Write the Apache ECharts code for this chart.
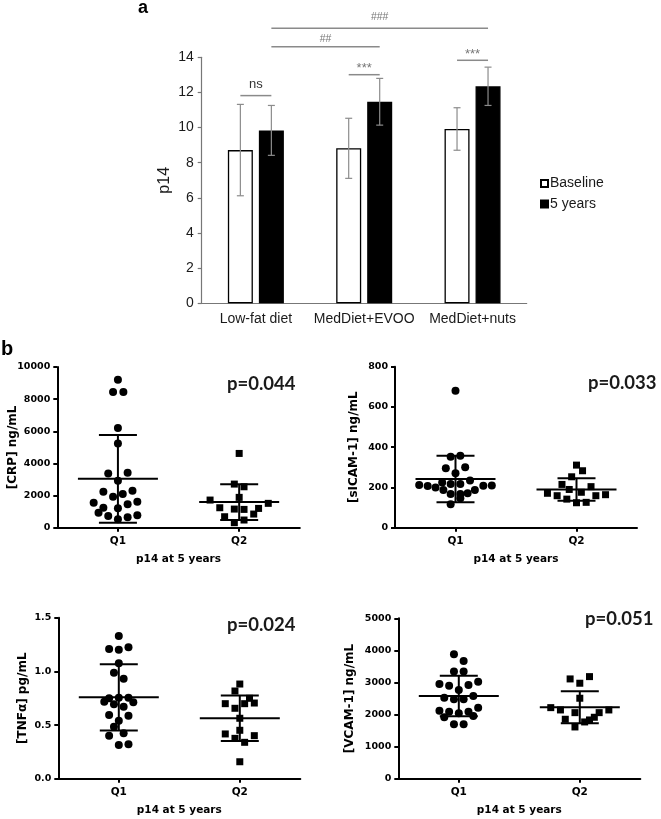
<!DOCTYPE html>
<html><head><meta charset="utf-8">
<script src="https://cdn.jsdelivr.net/npm/echarts@6/dist/echarts.min.js"></script>
<style>html,body{margin:0;padding:0;background:#fff}#c{width:661px;height:819px}</style>
</head><body><div id="c"></div>
<script>
// ---------- Panel a data ----------
const categories = ['Low-fat diet', 'MedDiet+EVOO', 'MedDiet+nuts'];
const seriesNames = ['Baseline', '5 years'];
const baselineMean = [8.72, 8.82, 9.92];
const baselineSD = [2.6, 1.71, 1.21];
const fiveYearMean = [9.84, 11.47, 12.35];
const fiveYearSD = [1.42, 1.33, 1.09];
const yTicksA = [0, 2, 4, 6, 8, 10, 12, 14];
// significance brackets: [category, series] endpoints, level (p14 units), label
const bracketFrom = [[0, 0], [1, 0], [2, 0], [0, 1], [0, 1]];
const bracketTo = [[0, 1], [1, 1], [2, 1], [1, 1], [2, 1]];
const bracketLevel = [11.82, 13.01, 13.83, 14.6, 15.65];
const bracketText = ['ns', '***', '***', '##', '###'];

// ---------- Panel b data: [jitter (category units), value] ----------
const groupLabels = ['Q1', 'Q2'];
const crpQ1 = [[0, 9213], [-0.04, 8450], [0.045, 8450], [0, 6211], [0, 5242],
  [-0.08, 3379], [0.08, 3416], [0, 2919],
  [-0.12, 2236], [-0.04, 1925], [0.04, 2093], [0.12, 2298],
  [-0.2, 1553], [-0.12, 1242], [0, 1205], [0.08, 1453], [0.16, 1615],
  [-0.16, 932], [-0.08, 727], [0, 522], [0.08, 646], [0.16, 770]];
const crpQ2 = [[0, 4621], [-0.04, 2714], [0.04, 2547], [0, 1888],
  [-0.24, 1720], [0.24, 1515],
  [-0.16, 1242], [-0.04, 1159], [0.04, 1139], [0.16, 1200],
  [-0.12, 683], [0.12, 849], [-0.04, 311], [0.04, 478]];
const crpMean = [3040, 1596];
const crpSD = [2735, 1110];

const sicamQ1 = [[0, 680], [-0.04, 353], [0.04, 358], [-0.08, 296], [0.08, 300], [0, 270], [0.12, 235],
  [-0.3, 212], [-0.23, 207], [-0.165, 200], [-0.11, 224], [-0.04, 217], [0.04, 217], [0.23, 209], [0.3, 210],
  [-0.1, 187], [0.16, 187], [-0.04, 167], [0.04, 167], [0.1, 171],
  [0.04, 146], [-0.04, 116]];
const sicamQ2 = [[0, 311], [0.05, 283], [-0.04, 253], [-0.12, 215], [0.12, 204],
  [-0.24, 171], [-0.06, 190], [0.04, 176],
  [-0.16, 159], [0.16, 159], [0.24, 164],
  [-0.08, 142], [0, 124], [0.08, 126]];
const sicamMean = [242, 190];
const sicamSD = [115, 56];

const tnfQ1 = [[0, 1.33], [-0.08, 1.209], [0, 1.202], [0.08, 1.224], [0, 1.075],
  [-0.04, 0.988], [0.04, 0.932],
  [-0.08, 0.749], [0, 0.755], [0.08, 0.755], [-0.12, 0.718], [0.12, 0.712], [-0.04, 0.693], [0.04, 0.671],
  [-0.08, 0.594], [0.08, 0.587], [0, 0.541],
  [-0.04, 0.485], [0.04, 0.423], [-0.08, 0.401],
  [0, 0.314], [0.08, 0.32]];
const tnfQ2 = [[0, 0.882], [-0.04, 0.817], [0.08, 0.749], [-0.12, 0.699], [-0.04, 0.656], [0.04, 0.699], [0.12, 0.705],
  [0, 0.563], [0, 0.451], [-0.12, 0.417], [0.12, 0.401], [-0.04, 0.376], [0.04, 0.339], [0, 0.158]];
const tnfMean = [0.758, 0.563];
const tnfSD = [0.308, 0.211];

const vcamQ1 = [[-0.04, 3880], [0.04, 3671], [-0.04, 3338], [0.04, 3338],
  [-0.16, 2954], [-0.08, 2901], [0, 2766], [0.08, 2922], [0.16, 3026],
  [-0.12, 2527], [-0.04, 2476], [0.04, 2476], [0.12, 2580],
  [-0.16, 2121], [-0.08, 2090], [0, 2039], [0.08, 2090], [0.16, 2215],
  [-0.12, 1915], [0.12, 1955], [-0.04, 1697], [0.04, 1697]];
const vcamQ2 = [[-0.08, 3110], [0, 2976], [0.08, 3182], [0, 2508],
  [-0.24, 2215], [-0.16, 2143], [0.24, 2143],
  [-0.04, 2059], [0.16, 2059],
  [-0.12, 1853], [0.08, 1831], [0.12, 1915],
  [0.04, 1769], [-0.04, 1613]];
const vcamMean = [2580, 2226];
const vcamSD = [630, 500];

const yTicksCRP = [0, 2000, 4000, 6000, 8000, 10000];
const yTicksSICAM = [0, 200, 400, 600, 800];
const yTicksTNF = [0, 0.5, 1.0, 1.5];
const yTicksVCAM = [0, 1000, 2000, 3000, 4000, 5000];
const pValues = ['p=0.044', 'p=0.033', 'p=0.024', 'p=0.051'];
const yNames = ['[CRP] ng/mL', '[sICAM-1] ng/mL', '[TNF\u03b1] pg/mL', '[VCAM-1] ng/mL'];
const xName = 'p14 at 5 years';

// ---------- layout / style ----------
const BAR_W = 25, BAR_GAP = 0.24;
const barOffset = s => (s === 0 ? -1 : 1) * (BAR_W + BAR_W * BAR_GAP) / 2;
const labelLift = { 'ns': 11, '***': 6, '##': 7.5, '###': 11.5 };
const labelSize = { 'ns': 13, '***': 13, '##': 10.5, '###': 10.5 };
const labelColor = { 'ns': '#333', '***': '#777', '##': '#777', '###': '#777' };

const panels = [
  { q1: crpQ1, q2: crpQ2, mean: crpMean, sd: crpSD, ticks: yTicksCRP, dec: 0,
    grid: { left: 57.3, top: 367, width: 242.5, height: 160.7 }, nameGap: 38, pPos: [227, 384] },
  { q1: sicamQ1, q2: sicamQ2, mean: sicamMean, sd: sicamSD, ticks: yTicksSICAM, dec: 0,
    grid: { left: 395, top: 366.7, width: 242, height: 161 }, nameGap: 35, pPos: [588, 383] },
  { q1: tnfQ1, q2: tnfQ2, mean: tnfMean, sd: tnfSD, ticks: yTicksTNF, dec: 1,
    grid: { left: 58.3, top: 617.7, width: 242, height: 161 }, nameGap: 29, pPos: [227, 625] },
  { q1: vcamQ1, q2: vcamQ2, mean: vcamMean, sd: vcamSD, ticks: yTicksVCAM, dec: 0,
    grid: { left: 398.3, top: 618.3, width: 242, height: 160.4 }, nameGap: 42, pPos: [585, 619] }
];

const grids = [{ left: 201.7, top: 57.3, width: 325, height: 246, outerBoundsMode: 'none' }];
const xAxes = [{
  gridIndex: 0, type: 'category', data: categories,
  axisLine: { show: true, lineStyle: { color: '#777', width: 1.2 } },
  axisTick: { show: false },
  axisLabel: { interval: 0, hideOverlap: false, fontSize: 14, color: '#1a1a1a', margin: 9, fontFamily: 'Liberation Sans' },
  splitLine: { show: false }
}];
const yAxes = [{
  gridIndex: 0, type: 'value', min: yTicksA[0], max: yTicksA[yTicksA.length - 1], interval: yTicksA[1] - yTicksA[0],
  axisLine: { show: true, lineStyle: { color: '#777', width: 1.2 } },
  axisTick: { show: true, length: 4, lineStyle: { color: '#777', width: 1.2 } },
  axisLabel: { fontSize: 14, color: '#1a1a1a', margin: 8, fontFamily: 'Liberation Sans' },
  splitLine: { show: false },
  name: 'p14', nameLocation: 'middle', nameGap: 29, nameMoveOverlap: false,
  nameTextStyle: { fontSize: 16, color: '#1a1a1a', fontFamily: 'Liberation Sans' }
}];

const series = [
  { type: 'bar', name: seriesNames[0], xAxisIndex: 0, yAxisIndex: 0, data: baselineMean,
    barWidth: BAR_W, barGap: (BAR_GAP * 100) + '%',
    itemStyle: { color: '#fff', borderColor: '#000', borderWidth: 1.3 }, silent: true },
  { type: 'bar', name: seriesNames[1], xAxisIndex: 0, yAxisIndex: 0, data: fiveYearMean,
    barWidth: BAR_W, barGap: (BAR_GAP * 100) + '%',
    itemStyle: { color: '#000', borderColor: '#000', borderWidth: 1.3 }, silent: true },
  { type: 'custom', xAxisIndex: 0, yAxisIndex: 0, z: 5, clip: false, silent: true,
    encode: { x: 0, y: 2 },
    data: categories.flatMap((c, i) => [[i, 0, baselineMean[i], baselineSD[i]], [i, 1, fiveYearMean[i], fiveYearSD[i]]]),
    renderItem: (params, api) => {
      const cat = api.value(0), s = api.value(1), m = api.value(2), sd = api.value(3);
      const x = api.coord([cat, m])[0] + barOffset(s);
      const yt = api.coord([cat, m + sd])[1];
      const yb = api.coord([cat, m - sd])[1];
      const st = { stroke: '#8c8c8c', lineWidth: 1.2 };
      return { type: 'group', children: [
        { type: 'line', shape: { x1: x, y1: yt, x2: x, y2: yb }, style: st },
        { type: 'line', shape: { x1: x - 3.5, y1: yt, x2: x + 3.5, y2: yt }, style: st },
        { type: 'line', shape: { x1: x - 3.5, y1: yb, x2: x + 3.5, y2: yb }, style: st }
      ] };
    } },
  { type: 'custom', xAxisIndex: 0, yAxisIndex: 0, z: 5, clip: false, silent: true,
    encode: { x: 0, y: 1 },
    data: bracketLevel.map((v, i) => [bracketFrom[i][0], v]),
    renderItem: (params, api) => {
      const i = params.dataIndex;
      const y = api.coord([0, bracketLevel[i]])[1];
      const x1 = api.coord([bracketFrom[i][0], 0])[0] + barOffset(bracketFrom[i][1]);
      const x2 = api.coord([bracketTo[i][0], 0])[0] + barOffset(bracketTo[i][1]);
      const t = bracketText[i];
      return { type: 'group', children: [
        { type: 'line', shape: { x1: x1, y1: y, x2: x2, y2: y }, style: { stroke: '#8a8a8a', lineWidth: 1.5 } },
        { type: 'text', x: (x1 + x2) / 2, y: y - labelLift[t],
          style: { text: t, align: 'center', verticalAlign: 'middle', fontSize: labelSize[t],
                   fontFamily: 'Liberation Sans', fill: labelColor[t] } }
      ] };
    } }
];

const boldAxisFont = { fontFamily: 'DejaVu Sans', fontWeight: 'bold', color: '#000' };
const graphics = [
  { type: 'text', x: 138, y: 17, style: { text: 'a', fontSize: 18, fontWeight: 'bold', fontFamily: 'Liberation Sans', fill: '#000', verticalAlign: 'bottom' } },
  { type: 'text', x: 1, y: 359, style: { text: 'b', fontSize: 20, fontWeight: 'bold', fontFamily: 'Liberation Sans', fill: '#000', verticalAlign: 'bottom' } }
];

panels.forEach((p, k) => {
  const gi = k + 1;
  grids.push(Object.assign({ outerBoundsMode: 'none' }, p.grid));
  xAxes.push({
    gridIndex: gi, type: 'value', min: 0.5, max: 2.5,
    axisLine: { show: true, onZero: false, lineStyle: { color: '#000', width: 2 } },
    axisTick: { show: true, customValues: [1, 2], length: 4, lineStyle: { color: '#000', width: 2 } },
    axisLabel: Object.assign({ customValues: [1, 2], fontSize: 10.5, margin: 8,
      formatter: v => groupLabels[Math.round(v) - 1] }, boldAxisFont),
    splitLine: { show: false },
    name: xName, nameLocation: 'middle', nameGap: 26, nameMoveOverlap: false,
    nameTextStyle: Object.assign({ fontSize: 10.5 }, boldAxisFont)
  });
  yAxes.push({
    gridIndex: gi, type: 'value', min: p.ticks[0], max: p.ticks[p.ticks.length - 1], interval: p.ticks[1] - p.ticks[0],
    axisLine: { show: true, onZero: false, lineStyle: { color: '#000', width: 2 } },
    axisTick: { show: true, length: 4, lineStyle: { color: '#000', width: 2 } },
    axisLabel: Object.assign({ fontSize: 9.5, margin: 7, formatter: v => v.toFixed(p.dec) }, boldAxisFont),
    splitLine: { show: false },
    name: yNames[k], nameLocation: 'middle', nameGap: p.nameGap, nameMoveOverlap: false,
    nameTextStyle: Object.assign({ fontSize: 12 }, boldAxisFont)
  });
  series.push({ type: 'scatter', xAxisIndex: gi, yAxisIndex: gi, symbol: 'circle', symbolSize: 8, silent: true,
    itemStyle: { color: '#000', opacity: 1 }, data: p.q1.map(d => [1 + d[0], d[1]]) });
  series.push({ type: 'scatter', xAxisIndex: gi, yAxisIndex: gi, symbol: 'rect', symbolSize: 7, silent: true,
    itemStyle: { color: '#000', opacity: 1 }, data: p.q2.map(d => [2 + d[0], d[1]]) });
  series.push({ type: 'custom', xAxisIndex: gi, yAxisIndex: gi, z: 4, silent: true, clip: false,
    encode: { x: 0, y: 1 },
    data: p.mean.map((m, j) => [j + 1, m, p.sd[j]]),
    renderItem: (params, api) => {
      const g = api.value(0), m = api.value(1), sd = api.value(2);
      const c = api.coord([g, m]);
      const yt = api.coord([g, m + sd])[1];
      const yb = api.coord([g, m - sd])[1];
      const st = { stroke: '#000', lineWidth: 2 };
      return { type: 'group', children: [
        { type: 'line', shape: { x1: c[0] - 40, y1: c[1], x2: c[0] + 40, y2: c[1] }, style: st },
        { type: 'line', shape: { x1: c[0], y1: yt, x2: c[0], y2: yb }, style: st },
        { type: 'line', shape: { x1: c[0] - 19, y1: yt, x2: c[0] + 19, y2: yt }, style: st },
        { type: 'line', shape: { x1: c[0] - 19, y1: yb, x2: c[0] + 19, y2: yb }, style: st }
      ] };
    } });
  graphics.push({ type: 'text', x: p.pPos[0], y: p.pPos[1],
    style: { text: pValues[k], fontSize: 18.5, fontWeight: 'bold', fontFamily: 'Lato', fill: '#1a1a1a',
             align: 'left', verticalAlign: 'middle' } });
});

const chart = echarts.init(document.getElementById('c'));
chart.setOption({
  animation: false,
  backgroundColor: '#fff',
  textStyle: { fontFamily: 'Liberation Sans' },
  grid: grids, xAxis: xAxes, yAxis: yAxes, series: series,
  legend: { data: seriesNames, orient: 'vertical', left: 535, top: 171.5, itemWidth: 7, itemHeight: 7,
    itemGap: 6.5, icon: 'rect', selectedMode: false,
    textStyle: { fontFamily: 'Liberation Sans', fontSize: 14, color: '#1a1a1a', padding: [0, 0, 0, -3] } },
  graphic: graphics
});
</script></body></html>
